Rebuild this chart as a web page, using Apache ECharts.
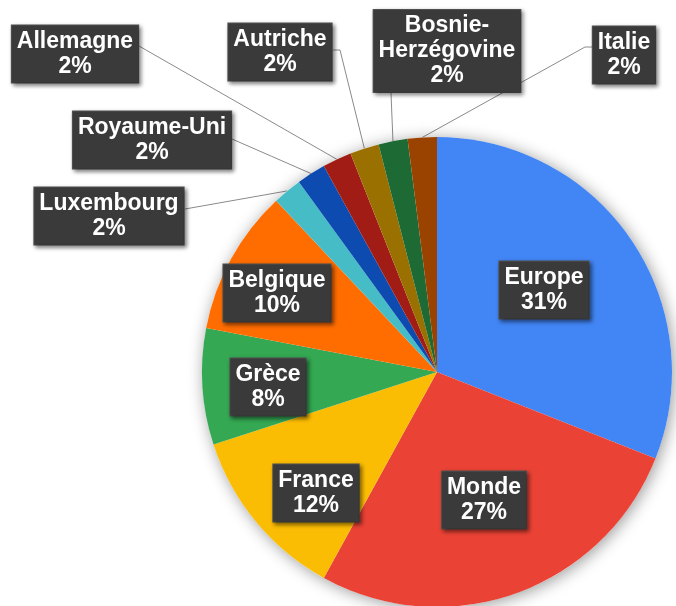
<!DOCTYPE html>
<html>
<head>
<meta charset="utf-8">
<script src="https://cdn.jsdelivr.net/npm/echarts@6/dist/echarts.min.js"></script>
<style>
  html, body { margin: 0; padding: 0; background: #fff; }
  #main { width: 676px; height: 606px; }
</style>
</head>
<body>
<div id="main"></div>
<script>
// données
var categories = ['Europe', 'Monde', 'France', 'Grèce', 'Belgique', 'Luxembourg',
  'Royaume-Uni', 'Allemagne', 'Autriche', 'Bosnie-\nHerzégovine', 'Italie'];
var values = [31, 27, 12, 8, 10, 2, 2, 2, 2, 2, 2];

var colors = ['#4285f4', '#ea4335', '#fbbc04', '#34a853', '#ff6d01', '#46bdc6',
  '#0d4bb0', '#a01c14', '#9a7100', '#1e6a34', '#9a4300'];

// centre des étiquettes + coudes des lignes de rappel
var labelPos = [
  [544, 290], [484, 500], [316, 493], [268, 387], [277, 293], [109, 216],
  [152, 140], [75, 54], [280, 52], [447, 51], [624, 55]
];
var lineEnds = [
  null, null, null, null, null,
  [[185, 209]],
  [[232, 139]],
  [[139, 46]],
  [[340, 50], [333, 50]],
  [[391, 93]],
  [[585, 47], [593, 47]]
];
var inside = [true, true, true, true, true, false, false, false, false, false, false];

var total = values.reduce(function (a, b) { return a + b; }, 0);

var data = categories.map(function (name, i) {
  return {
    name: name,
    value: values[i],
    itemStyle: { color: colors[i] },
    label: { position: inside[i] ? 'inside' : 'outside' },
    labelLine: { show: !inside[i] }
  };
});

var myChart = echarts.init(document.getElementById('main'));
myChart.setOption({
  animation: false,
  series: [
    {
      // ombre portée du camembert
      type: 'pie',
      silent: true,
      center: [437, 372],
      radius: 235,
      label: { show: false },
      labelLine: { show: false },
      itemStyle: {
        color: '#fff',
        shadowBlur: 16,
        shadowColor: 'rgba(0,0,0,0.4)',
        shadowOffsetX: 2,
        shadowOffsetY: 2
      },
      data: [{ name: 'total', value: total }]
    },
    {
      type: 'pie',
      center: [437, 372],
      radius: 235,
      startAngle: 90,
      clockwise: true,
      avoidLabelOverlap: false,
      emphasis: { disabled: true },
      data: data,
      label: {
        show: true,
        formatter: function (p) { return p.name + '\n' + Math.round(p.percent) + '%'; },
        color: '#fff',
        fontFamily: 'Liberation Sans, Arial, sans-serif',
        fontWeight: 'bold',
        fontSize: 23,
        lineHeight: 25,
        align: 'center',
        backgroundColor: '#3a3a3a',
        borderColor: '#555',
        borderWidth: 1,
        padding: [4, 5, 3, 5],
        shadowColor: 'rgba(0,0,0,0.45)',
        shadowBlur: 4,
        shadowOffsetX: 2,
        shadowOffsetY: 2
      },
      labelLine: {
        show: true,
        lineStyle: { color: '#8a8a8a', width: 1 }
      },
      labelLayout: function (params) {
        var i = params.dataIndex;
        var out = {
          x: labelPos[i][0],
          y: labelPos[i][1],
          align: 'center',
          verticalAlign: 'middle'
        };
        if (lineEnds[i] && params.labelLinePoints) {
          var start = params.labelLinePoints[0];
          var pts = [start].concat(lineEnds[i]);
          if (pts.length < 3) {
            var e = pts[1];
            pts = [start, [(start[0] + e[0]) / 2, (start[1] + e[1]) / 2], e];
          }
          out.labelLinePoints = pts;
        }
        return out;
      }
    }
  ]
});
</script>
</body>
</html>
